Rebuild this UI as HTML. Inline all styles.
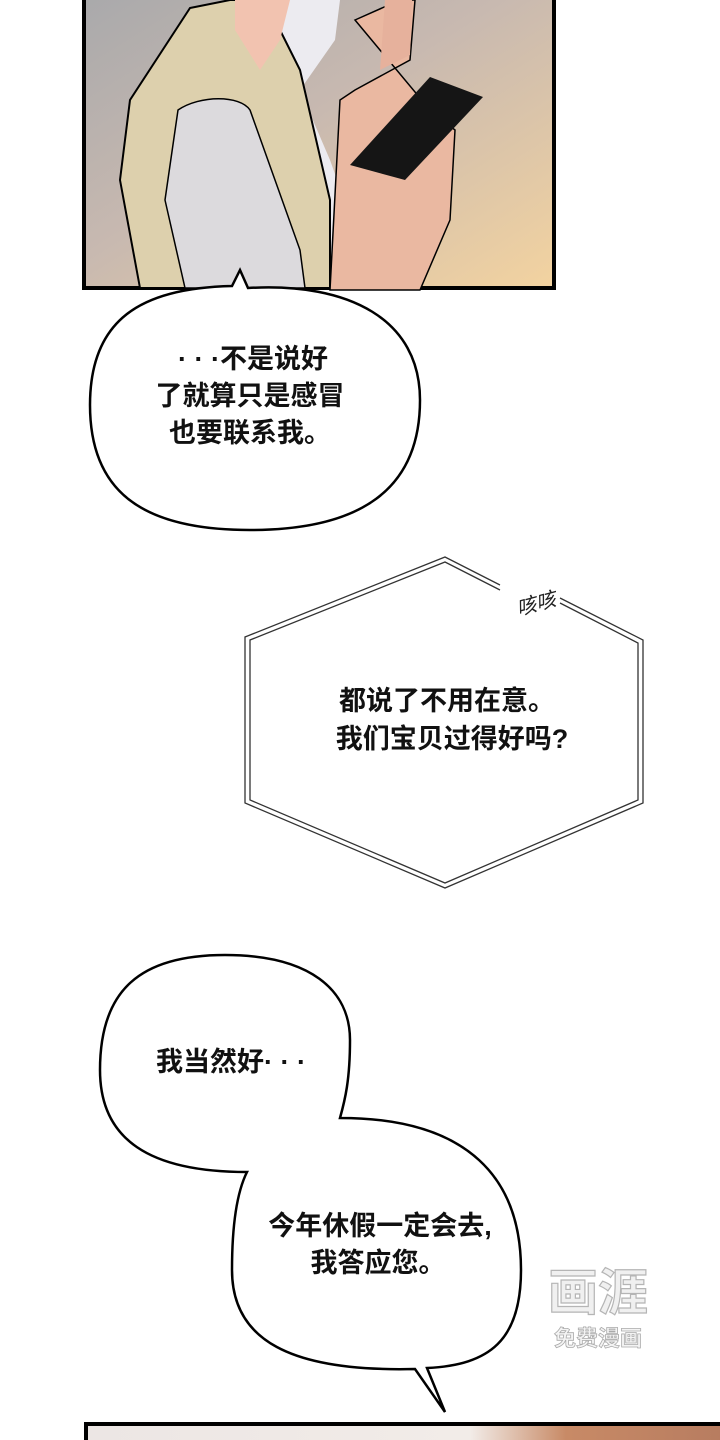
<!DOCTYPE html>
<html><head><meta charset="utf-8">
<style>
html,body{margin:0;padding:0;background:#fff;overflow:hidden;}
svg{display:block}
.t{font-family:"Liberation Sans","Noto Sans CJK SC",sans-serif;font-weight:700;fill:#111;}
</style></head>
<body>
<svg width="720" height="1440" viewBox="0 0 720 1440" xmlns="http://www.w3.org/2000/svg">
<defs>
<linearGradient id="bg" x1="0" y1="0" x2="1" y2="1">
<stop offset="0" stop-color="#a9a9ab"/><stop offset="0.45" stop-color="#c8b9b0"/><stop offset="1" stop-color="#f3d3a0"/>
</linearGradient>
<linearGradient id="bg2" x1="0" y1="0" x2="1" y2="0">
<stop offset="0" stop-color="#ece6e4"/><stop offset="0.6" stop-color="#f2ece8"/><stop offset="0.75" stop-color="#c88a66"/><stop offset="1" stop-color="#b77c60"/>
</linearGradient>
</defs>
<rect x="84" y="-4" width="470" height="292" fill="url(#bg)" stroke="#000" stroke-width="4"/>
<path d="M265 0 L340 0 L335 40 L300 90 L330 160 L355 230 L340 288 L240 288 Z" fill="#ecebf0"/>
<path d="M190 8 L230 0 L265 0 L300 70 L330 200 L330 288 L140 288 L120 180 L130 100 Z" fill="#ddd0ad" stroke="#000" stroke-width="2"/>
<path d="M178 110 C200 95 240 95 250 110 L300 250 L305 288 L185 288 L165 200 Z" fill="#dcdadd" stroke="#000" stroke-width="1.5"/>
<path d="M235 0 L290 0 L280 40 L260 70 L235 30 Z" fill="#f2c3b0"/>
<path d="M355 20 L400 0 L415 0 L410 60 L355 90 L340 100 L330 290 L420 290 L450 220 L455 130 L430 110 Z" fill="#eab8a1" stroke="#000" stroke-width="1.5"/>
<path d="M385 0 L412 0 L410 55 L380 70 Z" fill="#e6b19c"/>
<polygon points="350,165 430,77 483,97 405,180" fill="#151515"/>
<path d="M240 270 L248 288 C350 282 420 320 420 400 C420 490 360 530 250 530 C140 530 90 490 90 405 C90 320 140 288 232 286 Z" fill="#fff" stroke="#000" stroke-width="2.5"/>
<text class="t" x="253" y="368" font-size="27" text-anchor="middle">· · ·不是说好</text>
<text class="t" x="250" y="405" font-size="27" text-anchor="middle">了就算只是感冒</text>
<text class="t" x="250" y="442" font-size="27" text-anchor="middle">也要联系我。</text>
<g fill="none" stroke="#333" stroke-width="1.3">
<polyline points="500,585 445,557 245,637 245,803 445,888 643,803 643,640 560,598"/>
<polyline points="500,590 445,562 250,640 250,800 445,883 638,800 638,643 560,603"/>
</g>
<text class="t" x="515" y="612" font-size="20" font-style="italic" transform="rotate(-15 530 600)" style="font-weight:400;fill:#222">咳咳</text>
<text class="t" x="447" y="710" font-size="27" text-anchor="middle">都说了不用在意。</text>
<text class="t" x="452" y="748" font-size="27" text-anchor="middle">我们宝贝过得好吗?</text>
<path d="M225 955 C310 955 350 990 350 1040 C350 1080 345 1100 340 1118 C470 1118 521 1180 521 1270 C521 1340 490 1365 427 1368 L445 1412 L415 1369 C290 1372 232 1340 232 1270 C232 1220 238 1190 247 1172 C150 1172 100 1140 100 1070 C100 990 140 955 225 955 Z" fill="#fff" stroke="#000" stroke-width="2.5"/>
<text class="t" x="231" y="1071" font-size="27" text-anchor="middle">我当然好· · ·</text>
<text class="t" x="380" y="1235" font-size="27" text-anchor="middle">今年休假一定会去,</text>
<text class="t" x="378" y="1272" font-size="27" text-anchor="middle">我答应您。</text>
<text class="t" x="598" y="1310" font-size="50" text-anchor="middle" style="fill:#f0f0f0;stroke:#b5b5b5;stroke-width:1.2">画涯</text>
<text class="t" x="598" y="1346" font-size="22" text-anchor="middle" style="fill:#f4f4f4;stroke:#aaa;stroke-width:0.8">免费漫画</text>
<rect x="86" y="1424" width="640" height="40" fill="url(#bg2)" stroke="#000" stroke-width="4"/>
</svg>
</body></html>
